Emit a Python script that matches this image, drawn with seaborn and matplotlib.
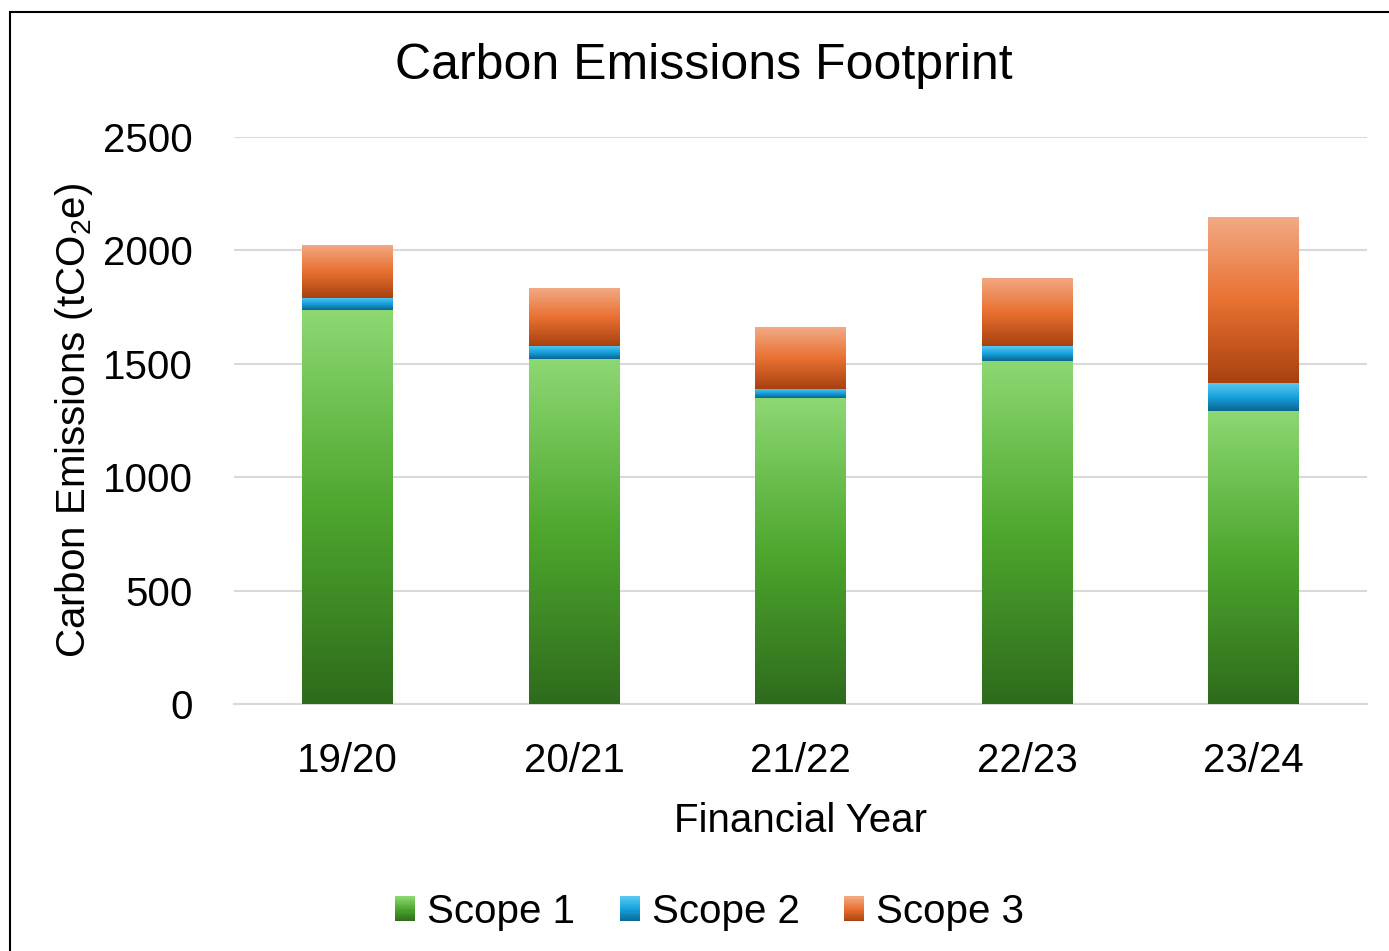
import numpy as np
import pandas as pd
import matplotlib
matplotlib.use('Agg')
import matplotlib.pyplot as plt
import seaborn as sns
from matplotlib.colors import LinearSegmentedColormap
from matplotlib.patches import Rectangle
from matplotlib.legend_handler import HandlerBase

# data (tCO2e)
years = ['19/20', '20/21', '21/22', '22/23', '23/24']
scope1 = [1737, 1519, 1347, 1514, 1294]
scope2 = [53, 61, 44, 66, 123]
scope3 = [234, 252, 273, 300, 728]
series_names = ['Scope 1', 'Scope 2', 'Scope 3']

# gradient stops top -> middle -> bottom
gradients = {
    'Scope 1': ['#8DD873', '#4EA72E', '#2E6B1C'],
    'Scope 2': ['#5BC8F2', '#16A2DD', '#0B6590'],
    'Scope 3': ['#F2AA85', '#E97132', '#A8410F'],
}

sns.set_style('white')
plt.rcParams['font.family'] = ['Liberation Sans', 'DejaVu Sans']
plt.rcParams['text.color'] = 'black'
plt.rcParams['mathtext.fontset'] = 'custom'
plt.rcParams['mathtext.rm'] = 'Liberation Sans'
plt.rcParams['mathtext.it'] = 'Liberation Sans'
plt.rcParams['mathtext.default'] = 'regular'

df = pd.DataFrame({'year': years, 'Scope 1': scope1, 'Scope 2': scope2, 'Scope 3': scope3})

fig = plt.figure(figsize=(13.89, 9.51), dpi=100)
ax = fig.add_axes([0.1685, 0.2597, 0.8157, 0.5963])

bottom = np.zeros(len(years))
for name in series_names:
    n_before = len(ax.patches)
    sns.barplot(data=df, x='year', y=name, ax=ax, bottom=bottom, width=0.4,
                color=gradients[name][1], errorbar=None, zorder=3)
    new_patches = ax.patches[n_before:]
    cmap = LinearSegmentedColormap.from_list(name, gradients[name][::-1])
    grad = np.linspace(0, 1, 256).reshape(-1, 1)
    for p in new_patches:
        x0, y0 = p.get_x(), p.get_y()
        w, h = p.get_width(), p.get_height()
        im = ax.imshow(grad, cmap=cmap, origin='lower', aspect='auto',
                       extent=[x0, x0 + w, y0, y0 + h], zorder=3, interpolation='bilinear')
        im.set_clip_path(p)
        p.set_facecolor('none')
        p.set_edgecolor('none')
    bottom = bottom + df[name].values

ax.set_xlim(-0.5, 4.5)
ax.set_ylim(0, 2500)
ax.set_yticks([0, 500, 1000, 1500, 2000, 2500])
ax.grid(axis='y', color='#D9D9D9', linewidth=1.5, zorder=0)
for s in ['top', 'right', 'left']:
    ax.spines[s].set_visible(False)
ax.spines['bottom'].set_color('#D9D9D9')
ax.spines['bottom'].set_linewidth(1.5)
ax.tick_params(axis='both', length=0, labelsize=29, colors='black')
ax.tick_params(axis='x', pad=27)
ax.tick_params(axis='y', pad=30)
ax.set_xlabel('Financial Year', fontsize=29, labelpad=16, color='black')
ax.set_ylabel('Carbon Emissions (tCO$_2$e)', fontsize=29, labelpad=5, color='black')

fig.text(0.507, 0.931, 'Carbon Emissions Footprint', fontsize=36, ha='center', va='center', color='black')


class GradientHandler(HandlerBase):
    def __init__(self, colors):
        super().__init__()
        self.colors = colors

    def create_artists(self, legend, orig_handle, xdescent, ydescent, width, height, fontsize, trans):
        cmap = LinearSegmentedColormap.from_list('lg', self.colors[::-1])
        n = 20
        h = height
        x0 = -xdescent
        y0 = -ydescent
        arts = []
        for i in range(n):
            arts.append(Rectangle((x0, y0 + h * i / n), width, h / n + 0.2,
                                  facecolor=cmap((i + 0.5) / n), edgecolor='none', transform=trans))
        return arts


handles = [Rectangle((0, 0), 1, 1) for _ in series_names]
fig.legend(handles, series_names, loc='center', bbox_to_anchor=(0.511, 0.041), ncol=3,
           frameon=False, fontsize=29, handlelength=0.5, handleheight=0.58,
           handletextpad=0.3, columnspacing=1.1,
           handler_map={h: GradientHandler(gradients[n]) for h, n in zip(handles, series_names)})

# chart border
fig.patches.append(Rectangle((10 / 1389, -0.01), 1.1, 1 - 12 / 951 + 0.01, transform=fig.transFigure,
                             fill=False, edgecolor='black', linewidth=1.5))

fig.savefig('out.png', dpi=100, facecolor='white')
